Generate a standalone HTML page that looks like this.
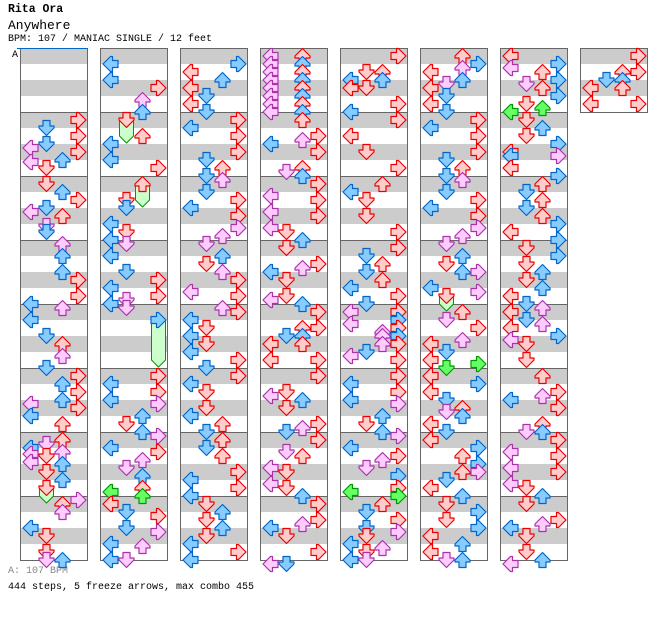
<!DOCTYPE html>
<html><head><meta charset="utf-8"><style>
html,body{margin:0;padding:0;background:#fff;width:672px;height:620px;overflow:hidden}
.t{position:absolute;font-family:"Liberation Mono",monospace;white-space:nowrap;color:#000}
</style></head><body>
<div class="t" style="left:8px;top:3px;font-size:11.5px;font-weight:bold">Rita Ora</div>
<div class="t" style="left:8px;top:18px;font-size:13px">Anywhere</div>
<div class="t" style="left:8px;top:34px;font-size:10px">BPM: 107 / MANIAC SINGLE / 12 feet</div>
<div class="t" style="left:8px;top:566px;font-size:10px;color:#888">A: 107 BPM</div>
<div class="t" style="left:8px;top:582px;font-size:10px">444 steps, 5 freeze arrows, max combo 455</div>
<svg id="chart" width="672" height="620" style="position:absolute;left:0;top:0" xmlns="http://www.w3.org/2000/svg"></svg>
<script>
const colMeasures=[8,8,8,8,8,8,8,1];
const notes0=[[64,3,'r'],[72,1,'b'],[80,3,'r'],[88,1,'b'],[92,0,'p'],[96,3,'r'],[104,2,'b'],[106,0,'p'],[112,1,'r'],[128,1,'r'],[136,2,'b'],[144,3,'r'],[152,1,'b'],[156,0,'p'],[160,2,'r'],[170,1,'p'],[176,1,'b'],[188,2,'p'],[200,2,'b'],[216,2,'b'],[224,3,'r'],[240,3,'r'],[248,0,'b'],[252,2,'p'],[264,0,'b'],[280,1,'b'],[288,2,'r'],[300,2,'p'],[312,1,'b'],[320,3,'r'],[328,2,'b'],[336,3,'r'],[344,2,'b'],[348,0,'p'],[352,3,'r'],[360,0,'b'],[368,2,'r'],[384,2,'r'],[388,1,'p'],[392,0,'b'],[396,2,'p'],[398,0,'p'],[400,1,'r'],[406,0,'p'],[408,2,'b'],[416,1,'r'],[424,2,'b'],[432,1,'r'],[444,3,'p'],[448,2,'r'],[456,2,'p'],[472,0,'b'],[480,1,'r'],[496,1,'r'],[504,1,'p'],[504,2,'b']];
const notes1=[[8,0,'b'],[24,0,'b'],[32,3,'r'],[44,2,'p'],[56,2,'b'],[64,1,'r'],[80,2,'r'],[88,0,'b'],[104,0,'b'],[112,3,'r'],[128,2,'r'],[144,1,'r'],[152,1,'b'],[168,0,'b'],[176,1,'r'],[184,0,'b'],[188,1,'p'],[200,0,'b'],[216,1,'b'],[224,3,'r'],[232,0,'b'],[240,3,'r'],[244,1,'p'],[248,0,'b'],[252,1,'p'],[264,3,'b'],[320,3,'r'],[328,0,'b'],[336,3,'r'],[344,0,'b'],[348,3,'p'],[360,2,'b'],[368,1,'r'],[376,2,'b'],[380,3,'p'],[392,0,'b'],[396,3,'r'],[404,2,'p'],[412,1,'p'],[420,2,'b'],[432,2,'r'],[436,0,'g'],[440,2,'g'],[448,0,'r'],[456,1,'b'],[460,3,'r'],[472,1,'b'],[476,3,'p'],[488,0,'b'],[490,2,'p'],[504,0,'b'],[504,1,'p']];
const notes2=[[8,3,'b'],[16,0,'r'],[24,2,'b'],[32,0,'r'],[40,1,'b'],[48,0,'r'],[56,1,'b'],[64,3,'r'],[72,0,'b'],[80,3,'r'],[96,3,'r'],[104,1,'b'],[112,2,'r'],[120,1,'b'],[124,2,'p'],[136,1,'b'],[144,3,'r'],[152,0,'b'],[160,3,'r'],[172,3,'p'],[180,2,'p'],[188,1,'p'],[200,2,'b'],[208,1,'r'],[216,2,'p'],[224,3,'r'],[236,0,'p'],[240,3,'r'],[252,2,'p'],[256,3,'r'],[264,0,'b'],[272,1,'r'],[280,0,'b'],[288,1,'r'],[296,0,'b'],[304,3,'r'],[312,1,'b'],[320,3,'r'],[328,0,'b'],[336,1,'r'],[352,1,'r'],[360,0,'b'],[368,2,'r'],[376,1,'b'],[384,2,'r'],[392,1,'b'],[400,2,'r'],[416,3,'r'],[424,0,'b'],[432,3,'r'],[440,0,'b'],[448,1,'r'],[456,2,'b'],[464,1,'r'],[472,2,'b'],[480,1,'r'],[488,0,'b'],[496,3,'r'],[504,0,'b']];
const notes3=[[0,0,'p'],[8,0,'p'],[16,0,'p'],[24,0,'p'],[32,0,'p'],[40,0,'p'],[48,0,'p'],[56,0,'p'],[0,2,'r'],[8,2,'b'],[16,2,'r'],[24,2,'b'],[32,2,'r'],[40,2,'b'],[48,2,'r'],[56,2,'b'],[64,2,'r'],[80,3,'r'],[84,2,'p'],[88,0,'b'],[96,3,'r'],[112,2,'r'],[116,1,'p'],[120,2,'b'],[128,3,'r'],[140,0,'p'],[144,3,'r'],[156,0,'p'],[160,3,'r'],[172,0,'p'],[176,1,'r'],[184,2,'b'],[192,1,'r'],[208,3,'r'],[212,2,'p'],[216,0,'b'],[224,1,'r'],[240,1,'r'],[244,0,'p'],[248,2,'b'],[256,3,'r'],[272,2,'r'],[272,3,'r'],[280,1,'b'],[280,2,'b'],[288,0,'r'],[288,2,'r'],[304,0,'r'],[304,3,'r'],[320,3,'r'],[336,1,'r'],[340,0,'p'],[344,2,'b'],[352,1,'r'],[368,3,'r'],[372,2,'p'],[376,1,'b'],[384,3,'r'],[396,1,'p'],[400,2,'r'],[412,0,'p'],[416,1,'r'],[428,0,'p'],[432,1,'r'],[440,2,'b'],[448,3,'r'],[464,3,'r'],[468,2,'p'],[472,0,'b'],[480,1,'r'],[496,3,'r'],[508,0,'p'],[508,1,'b']];
const notes4=[[0,3,'r'],[16,1,'r'],[16,2,'r'],[24,0,'b'],[24,2,'b'],[32,0,'r'],[32,1,'r'],[48,3,'r'],[56,0,'b'],[64,3,'r'],[80,0,'r'],[96,1,'r'],[112,3,'r'],[128,2,'r'],[136,0,'b'],[144,1,'r'],[160,1,'r'],[176,3,'r'],[192,3,'r'],[200,1,'b'],[208,2,'r'],[216,1,'b'],[224,2,'r'],[232,0,'b'],[240,3,'r'],[248,1,'b'],[256,0,'p'],[256,3,'r'],[264,3,'b'],[268,0,'p'],[272,3,'r'],[276,2,'p'],[280,3,'b'],[280,2,'p'],[288,2,'p'],[288,3,'r'],[296,1,'b'],[300,0,'p'],[304,3,'r'],[320,3,'r'],[328,0,'b'],[336,3,'r'],[344,0,'b'],[348,3,'p'],[360,2,'b'],[368,1,'r'],[376,2,'b'],[380,3,'p'],[392,0,'b'],[400,3,'r'],[404,2,'p'],[412,1,'p'],[420,3,'b'],[432,3,'r'],[436,0,'g'],[440,3,'g'],[448,2,'r'],[456,1,'b'],[464,3,'r'],[472,1,'b'],[476,3,'p'],[480,1,'r'],[488,0,'b'],[492,2,'p'],[496,1,'r'],[504,0,'b'],[504,1,'p']];
const notes5=[[0,2,'r'],[8,3,'b'],[12,2,'p'],[16,0,'r'],[24,2,'b'],[28,1,'p'],[32,0,'r'],[40,1,'b'],[48,0,'r'],[56,1,'b'],[64,3,'r'],[72,0,'b'],[80,3,'r'],[96,3,'r'],[104,1,'b'],[112,2,'r'],[120,1,'b'],[124,2,'p'],[136,1,'b'],[144,3,'r'],[152,0,'b'],[160,3,'r'],[172,3,'p'],[180,2,'p'],[188,1,'p'],[200,2,'b'],[208,1,'r'],[216,2,'b'],[216,3,'p'],[232,0,'b'],[236,3,'p'],[240,1,'r'],[256,2,'r'],[264,1,'p'],[272,3,'r'],[284,2,'p'],[288,0,'r'],[296,1,'b'],[304,0,'r'],[308,3,'g'],[312,1,'g'],[320,0,'r'],[328,3,'b'],[336,0,'r'],[344,1,'b'],[352,2,'r'],[356,1,'p'],[360,2,'b'],[368,0,'r'],[376,1,'b'],[384,0,'r'],[392,3,'b'],[400,2,'r'],[408,3,'b'],[416,2,'r'],[416,3,'p'],[424,1,'b'],[432,0,'r'],[440,2,'b'],[448,1,'r'],[456,3,'b'],[464,1,'r'],[472,3,'b'],[480,0,'r'],[488,2,'b'],[496,0,'r'],[504,2,'b'],[504,1,'p']];
const notes6=[[0,0,'r'],[8,3,'b'],[12,0,'p'],[16,2,'r'],[24,3,'b'],[28,1,'p'],[32,2,'r'],[40,3,'b'],[48,1,'r'],[52,2,'g'],[56,0,'g'],[64,1,'r'],[72,2,'b'],[80,1,'r'],[88,3,'b'],[96,0,'r'],[100,0,'b'],[100,3,'p'],[112,0,'r'],[120,3,'b'],[128,2,'r'],[136,1,'b'],[144,2,'r'],[152,1,'b'],[160,2,'r'],[168,3,'b'],[176,0,'r'],[184,3,'b'],[192,1,'r'],[200,3,'b'],[208,1,'r'],[216,2,'b'],[224,1,'r'],[232,2,'b'],[240,0,'r'],[248,1,'b'],[252,2,'p'],[256,0,'r'],[264,1,'b'],[268,2,'p'],[272,0,'r'],[280,3,'b'],[284,0,'p'],[288,1,'r'],[304,1,'r'],[320,2,'r'],[336,3,'r'],[340,2,'p'],[344,0,'b'],[352,3,'r'],[368,2,'r'],[376,1,'p'],[376,2,'b'],[384,3,'r'],[396,0,'p'],[400,3,'r'],[412,0,'p'],[416,3,'r'],[428,0,'p'],[432,1,'r'],[440,2,'b'],[448,1,'r'],[464,3,'r'],[468,2,'p'],[472,0,'b'],[480,1,'r'],[496,1,'r'],[508,0,'p'],[504,2,'b']];
const notes7=[[0,3,'r'],[16,2,'r'],[16,3,'r'],[24,1,'b'],[24,2,'b'],[32,0,'r'],[32,2,'r'],[48,0,'r'],[48,3,'r']];
const freezeCols=[0,1,1,1,5];
const freezeLanes=[1,1,2,3,1];
const freezeStarts=[432,64,128,264,240];
const freezeEnds=[440,80,144,304,248];

const allNotes=[notes0,notes1,notes2,notes3,notes4,notes5,notes6,notes7];
const NS='http://www.w3.org/2000/svg';
const svg=document.getElementById('chart');
const TOP=48, COLW=67, PITCH=80, MEAS=64;
function colX(c){return 20+c*PITCH;}
function laneX(c,l){return colX(c)+10.5+16*l;}
function yPos(off){return TOP+off+8;}
function mk(tag,attrs){const e=document.createElementNS(NS,tag);for(const k in attrs)e.setAttribute(k,attrs[k]);svg.appendChild(e);return e;}
const COL={r:['#fcc','#e00'],b:['#8cf','#06c'],p:['#fcf','#a3a'],g:['#6f6','#090']};
const ROT=[-90,180,0,90];

for(let c=0;c<colMeasures.length;c++){
  const h=colMeasures[c]*MEAS;
  for(let m=0;m<colMeasures[c];m++){
    for(const s of [0,32]){
      const st=mk('rect',{x:colX(c),y:TOP+m*MEAS+s,width:COLW,height:16,fill:'#ccc'});
      
      
    }
  }
  for(let m=1;m<colMeasures[c];m++){
    const ln=mk('line',{x1:colX(c),x2:colX(c)+COLW,y1:TOP+m*MEAS+0.5,y2:TOP+m*MEAS+0.5,stroke:'#666','stroke-width':1});
    
    
  }
  const box=mk('rect',{x:colX(c)+0.5,y:TOP+0.5,width:COLW,height:h,fill:'none',stroke:'#666','stroke-width':1});
  
  
}
const bl=mk('line',{x1:17,x2:88,y1:48.5,y2:48.5,stroke:'#06c','stroke-width':1});


const bt=mk('text',{x:12,y:57,'font-family':'Liberation Mono, monospace','font-size':10,fill:'#000'});
bt.textContent='A';



for(let i=0;i<freezeCols.length;i++){
  const x=laneX(freezeCols[i],freezeLanes[i]);
  const y1=yPos(freezeStarts[i]), y2=yPos(freezeEnds[i]);
  const fz=mk('polygon',{points:`${x-7},${y1} ${x+7},${y1} ${x+7},${y2} ${x},${y2+7} ${x-7},${y2}`,fill:'#cfc',stroke:'#090','stroke-width':1});
  
  
}
const ARROW='0,-7.5 7.5,0 7.5,2 3.5,2 3.5,7.5 -3.5,7.5 -3.5,2 -7.5,2 -7.5,0';
for(let c=0;c<allNotes.length;c++){
  for(const n of allNotes[c]){
    const [off,lane,col]=n;
    const a=mk('polygon',{points:ARROW,fill:COL[col][0],stroke:COL[col][1],'stroke-width':1.2,'stroke-linejoin':'round',
      transform:`translate(${laneX(c,lane)},${yPos(off)}) rotate(${ROT[lane]})`});
    
    
  }
}
</script>
</body></html>
